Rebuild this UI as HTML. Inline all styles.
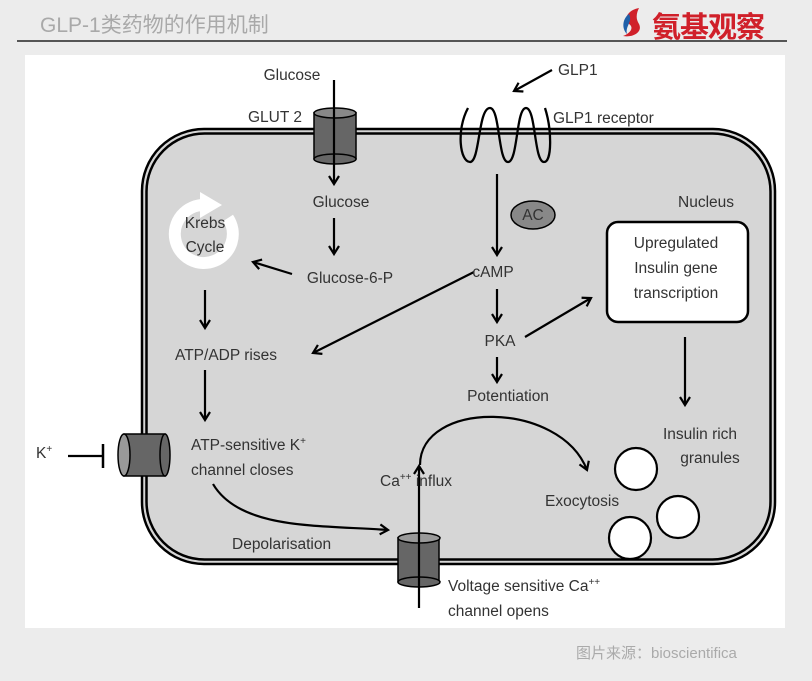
<!DOCTYPE html>
<html><head><meta charset="utf-8"><style>
html,body{margin:0;padding:0}
body{width:812px;height:681px;background:#ececec;position:relative;overflow:hidden;font-family:"Liberation Sans","Noto Sans CJK SC",sans-serif}
.t{position:absolute;white-space:nowrap}
</style></head><body>
<div class="t" style="left:40px;top:9px;font-size:21px;color:#a9a9a9">GLP-1类药物的作用机制</div>
<div style="position:absolute;left:17px;top:40px;width:770px;height:2px;background:#555"></div>
<svg style="position:absolute;left:619px;top:6px" width="30" height="34" viewBox="0 0 30 34"><path d="M20 2 C8 4 4 14 10 18 C16 22 10 28 4 30 C14 32 24 26 20 18 C16 12 18 6 20 2Z" fill="#d0202a"/><path d="M10 8 C4 12 2 22 8 28 C6 20 14 16 10 8Z" fill="#1f5fa8"/></svg>
<div class="t" style="left:652px;top:4px;font-size:29px;font-weight:bold;color:#d0202a;font-family:'Noto Sans CJK SC',sans-serif;letter-spacing:-1px">氨基观察</div>
<div style="position:absolute;left:25px;top:55px;width:760px;height:573px;background:#fff"></div>
<svg style="position:absolute;left:0;top:0" width="812" height="681" viewBox="0 0 812 681">
<defs><marker id="a" markerWidth="12" markerHeight="12" refX="9" refY="6" orient="auto" markerUnits="userSpaceOnUse"><polyline points="1,1 9,6 1,11" fill="none" stroke="#000" stroke-width="2.2"/></marker></defs>
<rect x="142" y="129" width="633" height="435" rx="62" fill="#d6d6d6" stroke="#000" stroke-width="2.5"/>
<rect x="146.5" y="133.5" width="624" height="426" rx="58" fill="none" stroke="#000" stroke-width="2.5"/>
<!-- krebs ring -->
<path d="M228 218 A29 29 0 1 1 204 205" fill="none" stroke="#fff" stroke-width="12"/>
<polygon points="200,192 222,205 200,218" fill="#fff"/>
<!-- GLUT -->
<rect x="314" y="113" width="42" height="46" fill="#666" stroke="#000" stroke-width="1.5"/>
<ellipse cx="335" cy="159" rx="21" ry="5" fill="#666" stroke="#000" stroke-width="1.5"/>
<ellipse cx="335" cy="113" rx="21" ry="5" fill="#888" stroke="#000" stroke-width="1.5"/>
<line x1="334" y1="80" x2="334" y2="184" stroke="#000" stroke-width="2.2" marker-end="url(#a)"/>
<!-- receptor coils -->
<g fill="none" stroke="#000" stroke-width="2.3">
<path d="M468 108 C456 130 460 162 470 162 C480 162 478 108 490 108 C500 108 498 162 508 162 C518 162 516 108 526 108 C536 108 534 162 544 162 C552 162 552 130 545 108"/>
</g>
<line x1="552" y1="70" x2="514" y2="91" stroke="#000" stroke-width="2.2" marker-end="url(#a)"/>
<line x1="334" y1="218" x2="334" y2="254" stroke="#000" stroke-width="2.2" marker-end="url(#a)"/>
<line x1="292" y1="274" x2="253" y2="262" stroke="#000" stroke-width="2.2" marker-end="url(#a)"/>
<line x1="205" y1="290" x2="205" y2="328" stroke="#000" stroke-width="2.2" marker-end="url(#a)"/>
<line x1="205" y1="370" x2="205" y2="420" stroke="#000" stroke-width="2.2" marker-end="url(#a)"/>
<line x1="497" y1="174" x2="497" y2="255" stroke="#000" stroke-width="2.2" marker-end="url(#a)"/>
<ellipse cx="533" cy="215" rx="22" ry="14" fill="#888" stroke="#000" stroke-width="1.5"/>
<line x1="474" y1="272" x2="313" y2="353" stroke="#000" stroke-width="2.2" marker-end="url(#a)"/>
<line x1="497" y1="289" x2="497" y2="322" stroke="#000" stroke-width="2.2" marker-end="url(#a)"/>
<line x1="497" y1="357" x2="497" y2="382" stroke="#000" stroke-width="2.2" marker-end="url(#a)"/>
<line x1="525" y1="337" x2="591" y2="298" stroke="#000" stroke-width="2.2" marker-end="url(#a)"/>
<rect x="607" y="222" width="141" height="100" rx="11" fill="#fff" stroke="#000" stroke-width="2.5"/>
<line x1="685" y1="337" x2="685" y2="405" stroke="#000" stroke-width="2.2" marker-end="url(#a)"/>
<path d="M420 465 C420 400 560 400 587 470" fill="none" stroke="#000" stroke-width="2.2" marker-end="url(#a)"/>
<path d="M213 484 C240 530 320 525 388 530" fill="none" stroke="#000" stroke-width="2.2" marker-end="url(#a)"/>
<!-- K channel -->
<rect x="124" y="434" width="41" height="42" fill="#666" stroke="#000" stroke-width="1.5"/>
<ellipse cx="165" cy="455" rx="5" ry="21" fill="#666" stroke="#000" stroke-width="1.5"/>
<ellipse cx="124" cy="455" rx="6" ry="21" fill="#999" stroke="#000" stroke-width="1.5"/>
<line x1="68" y1="456" x2="103" y2="456" stroke="#000" stroke-width="2.2"/>
<line x1="103" y1="444" x2="103" y2="468" stroke="#000" stroke-width="2.5"/>
<!-- Ca channel -->
<rect x="398" y="538" width="41" height="44" fill="#666" stroke="#000" stroke-width="1.5"/>
<ellipse cx="419" cy="582" rx="21" ry="5" fill="#666" stroke="#000" stroke-width="1.5"/>
<ellipse cx="419" cy="538" rx="21" ry="5" fill="#999" stroke="#000" stroke-width="1.5"/>
<line x1="419" y1="608" x2="419" y2="466" stroke="#000" stroke-width="2.2" marker-end="url(#a)"/>
<g fill="#fff" stroke="#000" stroke-width="2.2">
<circle cx="636" cy="469" r="21"/><circle cx="678" cy="517" r="21"/><circle cx="630" cy="538" r="21"/>
</g>
<g font-family="Liberation Sans, sans-serif" font-size="15.5" fill="#333">
<text x="292" y="80" text-anchor="middle">Glucose</text>
<text x="275" y="122" text-anchor="middle">GLUT 2</text>
<text x="341" y="207" text-anchor="middle">Glucose</text>
<text x="350" y="283" text-anchor="middle">Glucose-6-P</text>
<text x="205" y="228" text-anchor="middle">Krebs</text>
<text x="205" y="252" text-anchor="middle">Cycle</text>
<text x="226" y="360" text-anchor="middle">ATP/ADP rises</text>
<text x="191" y="450">ATP-sensitive K<tspan font-size="10" dy="-6">+</tspan></text>
<text x="191" y="475">channel closes</text>
<text x="36" y="458">K<tspan font-size="10" dy="-6">+</tspan></text>
<text x="232" y="549">Depolarisation</text>
<text x="380" y="486">Ca<tspan font-size="10" dy="-6">++</tspan><tspan dy="6"> influx</tspan></text>
<text x="545" y="506">Exocytosis</text>
<text x="448" y="591">Voltage sensitive  Ca<tspan font-size="10" dy="-6">++</tspan></text>
<text x="448" y="616">channel opens</text>
<text x="558" y="75">GLP1</text>
<text x="553" y="123">GLP1 receptor</text>
<text x="533" y="220" text-anchor="middle">AC</text>
<text x="493" y="277" text-anchor="middle">cAMP</text>
<text x="500" y="346" text-anchor="middle">PKA</text>
<text x="508" y="401" text-anchor="middle">Potentiation</text>
<text x="706" y="207" text-anchor="middle">Nucleus</text>
<text x="676" y="248" text-anchor="middle">Upregulated</text>
<text x="676" y="273" text-anchor="middle">Insulin gene</text>
<text x="676" y="298" text-anchor="middle">transcription</text>
<text x="700" y="439" text-anchor="middle">Insulin rich</text>
<text x="710" y="463" text-anchor="middle">granules</text>
</g>
</svg>
<div class="t" style="left:576px;top:642px;font-size:15px;color:#aaa">图片来源：bioscientifica</div>
</body></html>
